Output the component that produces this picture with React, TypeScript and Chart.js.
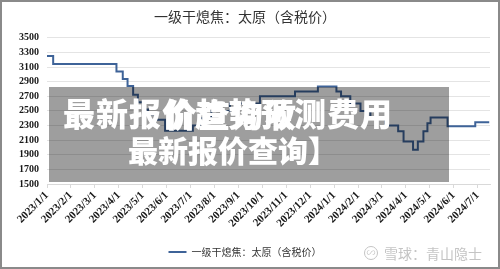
import React, { useEffect, useRef } from "react";
import { Chart, registerables } from "chart.js";

Chart.register(...registerables);

const chartTitle = "一级干熄焦：太原（含税价）";
const seriesName = "一级干熄焦：太原（含税价）";

const xTickLabels = [
  "2023/1/1", "2023/2/1", "2023/3/1", "2023/4/1", "2023/5/1", "2023/6/1",
  "2023/7/1", "2023/8/1", "2023/9/1", "2023/10/1", "2023/11/1", "2023/12/1",
  "2024/1/1", "2024/2/1", "2024/3/1", "2024/4/1", "2024/5/1", "2024/6/1",
  "2024/7/1",
];

const priceDates = [
  "2023-01-01", "2023-01-09", "2023-03-29", "2023-04-06", "2023-04-12",
  "2023-04-19", "2023-04-25", "2023-05-02", "2023-05-08", "2023-05-17",
  "2023-05-30", "2023-07-04", "2023-07-13", "2023-07-28", "2023-08-21",
  "2023-09-28", "2023-11-12", "2023-12-11", "2024-01-04", "2024-01-10",
  "2024-01-22", "2024-02-04", "2024-02-16", "2024-03-05", "2024-03-22",
  "2024-03-29", "2024-04-10", "2024-04-16", "2024-04-23", "2024-04-28",
  "2024-05-02", "2024-05-24", "2024-06-28", "2024-07-16",
];

const prices = [
  3250, 3140, 3040, 2935, 2840,
  2720, 2620, 2520, 2450, 2380,
  2230, 2300, 2400, 2500, 2600,
  2700, 2765, 2835, 2765, 2700,
  2600, 2500, 2400, 2300, 2220,
  2080, 1970, 2080, 2220, 2330,
  2410, 2290, 2345, 2345,
];

const axisEndDate = "2024-07-17";
const yMin = 1500;
const yMax = 3500;
const yStep = 200;

function monthIndex(d: string): number {
  const [y, m, day] = d.split("-").map(Number);
  const dim = new Date(y, m, 0).getDate();
  return (y - 2023) * 12 + (m - 1) + (day - 1) / dim;
}

export default function App() {
  const ref = useRef<HTMLCanvasElement | null>(null);

  useEffect(() => {
    if (!ref.current) return;
    const points = priceDates.map((d, i) => ({ x: monthIndex(d), y: prices[i] }));
    const chart = new Chart(ref.current, {
      type: "line",
      data: {
        datasets: [
          {
            label: seriesName,
            data: points,
            borderColor: "#3e6398",
            backgroundColor: "#3e6398",
            borderWidth: 2,
            pointRadius: 0,
            stepped: true,
            fill: false,
          },
        ],
      },
      options: {
        responsive: false,
        animation: false,
        layout: { padding: { top: 6, left: 0, right: 10, bottom: 2 } },
        plugins: {
          title: {
            display: true,
            text: chartTitle,
            color: "#333333",
            font: { family: "'Noto Sans CJK SC'", size: 14, weight: "normal" },
            padding: { top: 2, bottom: 13 },
          },
          legend: {
            display: true,
            position: "bottom",
            labels: {
              usePointStyle: true,
              pointStyle: "line",
              pointStyleWidth: 18,
              color: "#333333",
              font: { family: "'Noto Sans CJK SC'", size: 10 },
              padding: 10,
            },
          },
          tooltip: { enabled: false },
        },
        scales: {
          x: {
            type: "linear",
            min: 0,
            max: monthIndex(axisEndDate),
            ticks: {
              stepSize: 1,
              includeBounds: false,
              autoSkip: false,
              maxRotation: 45,
              minRotation: 45,
              padding: 1,
              color: "#1a1a1a",
              font: { family: "'Liberation Serif'", size: 11, weight: "bold" },
              callback: (v: any) => {
                const i = Math.round(Number(v));
                return Math.abs(Number(v) - i) < 1e-6 ? xTickLabels[i] ?? "" : "";
              },
            },
            grid: {
              drawOnChartArea: false,
              drawTicks: true,
              tickLength: 4,
              color: "#d9d9d9",
            },
            border: { display: true, color: "#d9d9d9" },
            afterFit: (s: any) => {
              s.height = 53;
            },
          },
          y: {
            min: yMin,
            max: yMax,
            ticks: {
              stepSize: yStep,
              autoSkip: false,
              padding: 8,
              color: "#1a1a1a",
              font: { family: "'Liberation Serif'", size: 10, weight: "bold" },
              callback: (v: any) => String(v),
            },
            grid: { color: "#e4e4e4", drawTicks: false },
            border: { display: false },
            afterFit: (s: any) => {
              s.width = 47;
            },
          },
        },
      },
    });
    return () => chart.destroy();
  }, []);

  return (
    <div
      style={{
        position: "fixed",
        left: 0,
        top: 0,
        width: 500,
        height: 269,
        background: "#ffffff",
        overflow: "hidden",
      }}
    >
      <canvas ref={ref} width={500} height={269} style={{ position: "absolute", left: 0, top: 0 }} />
      <div
        style={{
          position: "absolute",
          left: 49,
          top: 87,
          width: 400,
          height: 95,
          background: "rgba(0,0,0,0.38)",
          fontFamily: "'Noto Sans CJK SC'",
          color: "#ffffff",
          fontWeight: 900,
          whiteSpace: "nowrap",
        }}
      >
        <div style={{ position: "absolute", left: 14, top: 9, fontSize: 32, lineHeight: "32px", letterSpacing: 1 }}>
          最新报价趋势预测费用
        </div>
        <div style={{ position: "absolute", left: 116, top: 10, fontSize: 32, lineHeight: "32px", letterSpacing: 1 }}>
          价查询收
        </div>
        <div style={{ position: "absolute", left: 79, top: 47, fontSize: 30, lineHeight: "30px" }}>
          最新报价查询】
        </div>
      </div>
      <div
        style={{
          position: "absolute",
          left: 364,
          top: 244,
          height: 18,
          display: "flex",
          alignItems: "center",
          color: "#c4c4c4",
          fontFamily: "'Noto Sans CJK SC'",
          fontSize: 14,
          whiteSpace: "nowrap",
        }}
      >
        <span
          style={{
            display: "inline-block",
            width: 12,
            height: 12,
            borderRadius: "50%",
            border: "1.5px solid #c4c4c4",
            marginRight: 6,
            fontSize: 9,
            lineHeight: "12px",
            textAlign: "center",
          }}
        >
          ∽
        </span>
        雪球：青山隐士
      </div>
      <div
        style={{
          position: "absolute",
          left: 0,
          top: 0,
          width: 500,
          height: 269,
          boxSizing: "border-box",
          border: "2px solid #8a8a8a",
          pointerEvents: "none",
        }}
      />
    </div>
  );
}
